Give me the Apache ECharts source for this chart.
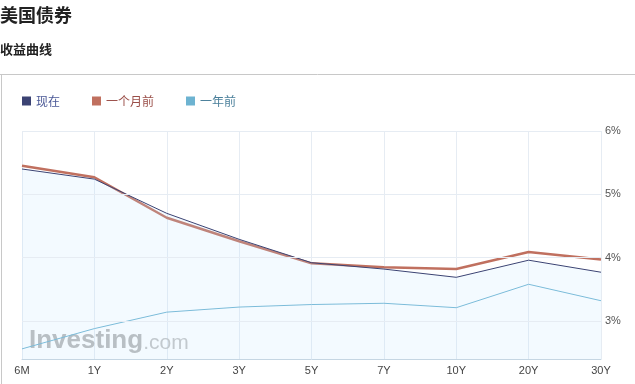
<!DOCTYPE html>
<html><head><meta charset="utf-8">
<script src="https://cdn.jsdelivr.net/npm/echarts@6/dist/echarts.min.js"></script>
<style>html,body{margin:0;padding:0;background:#fff;}#c{width:635px;height:384px;}</style>
</head><body><div id="c"></div>
<script>
const categories = ['6M','1Y','2Y','3Y','5Y','7Y','10Y','20Y','30Y'];
const nowValues = [5.40,5.24,4.70,4.29,3.92,3.82,3.69,3.96,3.77];
const monthAgoValues = [5.45,5.27,4.63,4.26,3.91,3.85,3.82,4.09,3.97];
const yearAgoValues = [2.56,2.88,3.14,3.22,3.26,3.28,3.21,3.58,3.32];
const gridValues = [3,4,5,6];
const seriesNames = ['现在','一个月前','一年前'];

const chart = echarts.init(document.getElementById('c'));
const cjk = '"Noto Sans CJK SC", "Liberation Sans", sans-serif';
chart.setOption({
  animation:false,
  textStyle:{fontFamily:cjk},
  title:[
    {text:'美国债券', left:0, top:6, padding:0, textStyle:{fontSize:18, fontWeight:'bold', color:'#222', fontFamily:cjk}},
    {text:'收益曲线', left:0, top:43, padding:0, textStyle:{fontSize:13, fontWeight:'bold', color:'#222', fontFamily:cjk}}
  ],
  graphic:[
    {type:'line', shape:{x1:0,y1:74.5,x2:635,y2:74.5}, style:{stroke:'#c8c8c8', lineWidth:1}},
    {type:'line', shape:{x1:1.5,y1:74,x2:1.5,y2:384}, style:{stroke:'#c8c8c8', lineWidth:1}},
    {type:'text', left:29, top:328, z:1, style:{
      text:'{a|Investing}{b|.com}',
      rich:{a:{fontSize:26, fontWeight:'bold', fill:'#b7b7b7', fontFamily:'"Liberation Sans", Arial'},
            b:{fontSize:21, fill:'#c4c4c4', fontFamily:'"Liberation Sans", Arial', padding:[5,0,0,0]}}
    }}
  ],
  legend:{
    left:22, top:95, padding:0, itemWidth:9, itemHeight:9, itemGap:32, icon:'rect',
    textStyle:{fontSize:12, fontFamily:cjk},
    data:[
      {name:'现在', textStyle:{color:'#4a5896'}},
      {name:'一个月前', textStyle:{color:'#9a4e48'}},
      {name:'一年前', textStyle:{color:'#4a7f9a'}}
    ]
  },
  grid:{left:22, right:34, top:131, bottom:25},
  xAxis:{
    type:'category', data:categories, boundaryGap:false,
    axisLine:{lineStyle:{color:'#c5d6e3'}}, axisTick:{show:false},
    axisLabel:{color:'#444', fontSize:11, fontFamily:'"Liberation Sans", Arial', margin:6},
    splitLine:{show:true, lineStyle:{color:'#e6ecf3'}}
  },
  yAxis:{
    type:'value', position:'right', min:2.4, max:6, interval:0.2,
    axisLine:{show:false}, axisTick:{show:false}, splitLine:{show:false},
    axisLabel:{color:'#555', fontSize:11, fontFamily:'"Liberation Sans", Arial', margin:4,
      formatter:function(v){ return Math.abs(v-Math.round(v))<1e-6 ? Math.round(v)+'%' : ''; }}
  },
  series:[
    {name:seriesNames[0], type:'line', data:nowValues, symbol:'none', z:4,
     lineStyle:{color:'#3b4373', width:1}, itemStyle:{color:'#3b4373'},
     areaStyle:{color:'rgba(190,225,255,0.26)', origin:'start'},
     markLine:{silent:true, symbol:'none', label:{show:false}, animation:false,
       lineStyle:{color:'#e6ecf3', type:'solid', width:1},
       data:gridValues.map(v=>({yAxis:v}))}},
    {name:seriesNames[1], type:'line', data:monthAgoValues, symbol:'none', z:3,
     lineStyle:{color:'#c0705f', width:2.5}, itemStyle:{color:'#c0705f'}},
    {name:seriesNames[2], type:'line', data:yearAgoValues, symbol:'none', z:3,
     lineStyle:{color:'#6db3d1', width:1}, itemStyle:{color:'#6db3d1'}}
  ]
});
</script></body></html>
